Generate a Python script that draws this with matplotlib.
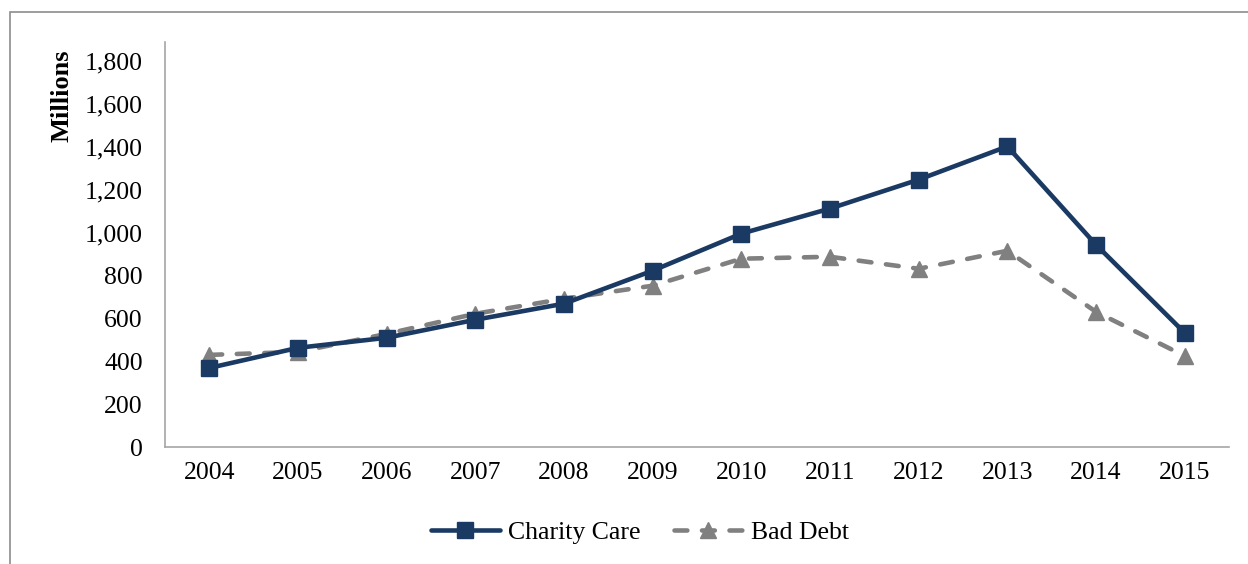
import matplotlib
matplotlib.use("Agg")
import matplotlib.pyplot as plt
from matplotlib.patches import Rectangle

years = ['2004', '2005', '2006', '2007', '2008', '2009',
         '2010', '2011', '2012', '2013', '2014', '2015']
charity_care = [369, 463, 510, 594, 669, 823, 996, 1113, 1248, 1403, 944, 533]
bad_debt = [430, 444, 528, 622, 692, 753, 879, 888, 832, 916, 631, 425]
yticks = [0, 200, 400, 600, 800, 1000, 1200, 1400, 1600, 1800]

plt.rcParams['font.family'] = ['Liberation Serif', 'DejaVu Serif']

navy = '#1b3a63'
grey = '#808080'

fig = plt.figure(figsize=(12.48, 5.64), dpi=100)
fig.patches.append(Rectangle((10 / 1248, -0.05), 1.1, 1 - 12 / 564 + 0.05,
                             transform=fig.transFigure, fill=False,
                             edgecolor='#8c8c8c', linewidth=1.2))
ax = fig.add_axes([0.1322, 0.2074, 0.8526, 0.718])

x = list(range(len(years)))
ax.plot(x, charity_care, color=navy, lw=3.3, marker='s', markersize=11,
        solid_capstyle='round', label='Charity Care', zorder=3)
ax.plot(x, bad_debt, color=grey, lw=3.3, marker='^', markersize=12,
        linestyle=(0, (2.8, 3.2)), dash_capstyle='round', label='Bad Debt', zorder=2)

ax.set_xlim(-0.5, len(years) - 0.5)
ax.set_ylim(0, 1890)
ax.set_xticks(x)
ax.set_xticklabels(years)
ax.set_yticks(yticks)
ax.set_yticklabels([f'{v:,}' for v in yticks])
ax.tick_params(length=0, labelsize=18.5)
ax.tick_params(axis='x', pad=11)
ax.tick_params(axis='y', pad=16)
for side in ('top', 'right'):
    ax.spines[side].set_visible(False)
for side in ('left', 'bottom'):
    ax.spines[side].set_color('#a6a6a6')
    ax.spines[side].set_linewidth(1.2)
ax.set_ylabel('Millions', fontsize=19, fontweight='bold')
ax.yaxis.set_label_coords(-0.086, 0.867)

ax.legend(loc='center', bbox_to_anchor=(0.446, -0.21), ncol=2, frameon=False,
          fontsize=18.5, handlelength=2.7, columnspacing=1.3, handletextpad=0.3)

plt.savefig('out.png', dpi=100)
